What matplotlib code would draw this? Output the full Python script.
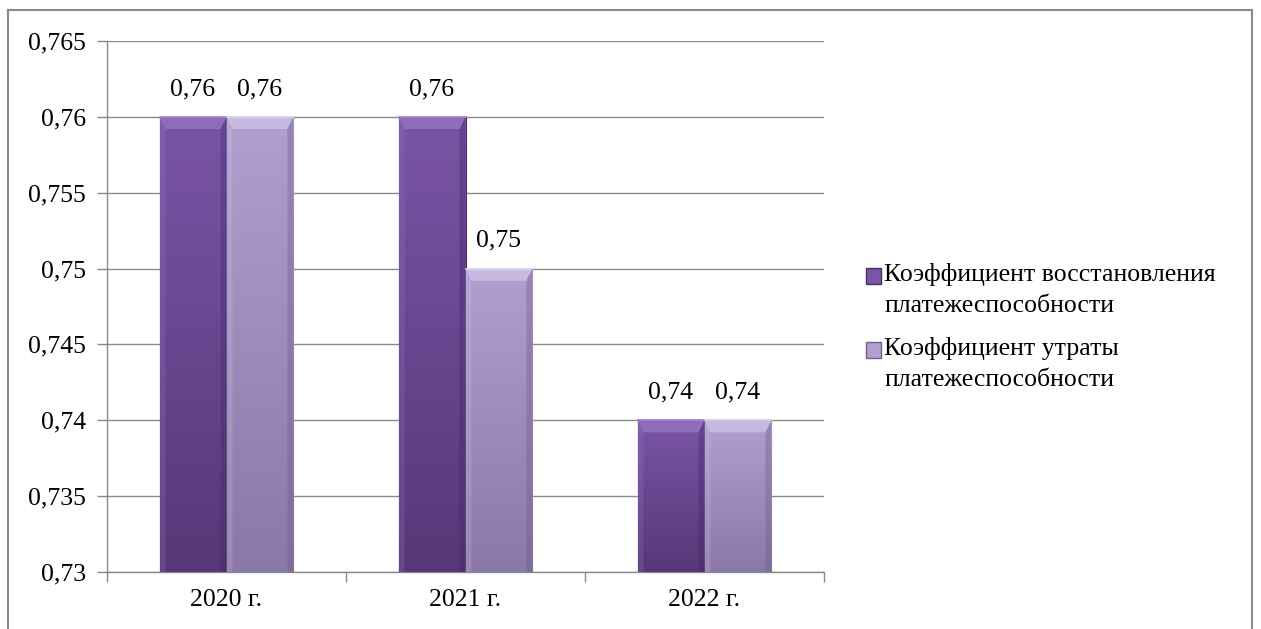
import numpy as np
import matplotlib
matplotlib.use("Agg")
import matplotlib.pyplot as plt
from matplotlib.colors import LinearSegmentedColormap
from matplotlib.lines import Line2D
from matplotlib.patches import Patch, Rectangle
from matplotlib.legend_handler import HandlerPatch

FONT = "Liberation Serif"
plt.rcParams['font.family'] = [FONT, 'DejaVu Serif']

years = ["2020 г.", "2021 г.", "2022 г."]
k_vosst = [0.76, 0.76, 0.74]
k_utr = [0.76, 0.75, 0.74]
lbl_vosst = ["0,76", "0,76", "0,74"]
lbl_utr = ["0,76", "0,75", "0,74"]
series_names = ["Коэффициент восстановления\nплатежеспособности",
                "Коэффициент утраты\nплатежеспособности"]

ymin, ymax = 0.73, 0.765
yticks = np.arange(0.73, 0.7651, 0.005)

dark_top, dark_bot = "#7a55a6", "#563878"
light_top, light_bot = "#b09fcf", "#8a78a8"
fs = 18.5

fig = plt.figure(figsize=(12.61, 6.29), dpi=100)
ax = fig.add_axes([107/1261, 57/629, (824-107)/1261, (572-41)/629])

x = np.arange(len(years))
w = 0.28

b1 = ax.bar(x - w/2, k_vosst, w, bottom=0, color=dark_top, edgecolor="#4a3068", linewidth=0.8, zorder=3)
b2 = ax.bar(x + w/2, k_utr, w, bottom=0, color=light_top, edgecolor="#6f6088", linewidth=0.8, zorder=3)

# gradient fill + bevel highlight on each bar
def shade(bars, ctop, cbot, hi, side):
    cmap = LinearSegmentedColormap.from_list("g", [cbot, ctop])
    grad = np.linspace(0, 1, 256).reshape(-1, 1)
    for b in bars:
        x0, bw, h = b.get_x(), b.get_width(), b.get_height()
        im = ax.imshow(grad, cmap=cmap, aspect="auto", origin="lower",
                       extent=[x0, x0 + bw, ymin, h], zorder=3.5)
        im.set_clip_path(b)
        bev = 0.0008
        dx = 0.025
        ax.fill([x0, x0 + bw, x0 + bw - dx, x0 + dx],
                [h, h, h - bev, h - bev], color=hi, alpha=0.55, lw=0, zorder=3.6)
        ax.fill([x0, x0 + dx, x0 + dx, x0], [h, h - bev, ymin, ymin],
                color=hi, alpha=0.2, lw=0, zorder=3.6)
        ax.fill([x0 + bw, x0 + bw - dx, x0 + bw - dx, x0 + bw], [h, h - bev, ymin, ymin],
                color=side, alpha=0.35, lw=0, zorder=3.6)
        ax.plot([x0, x0 + bw], [h, h], color=hi, lw=1.2, zorder=3.7)

shade(b1, dark_top, dark_bot, "#a184cc", "#3e2660")
shade(b2, light_top, light_bot, "#ddd0ef", "#6a5a85")

for xi, v, t in zip(x - w/2, k_vosst, lbl_vosst):
    ax.text(xi, v + 0.0011, t, ha="center", va="bottom", fontsize=fs, family=FONT)
for xi, v, t in zip(x + w/2, k_utr, lbl_utr):
    ax.text(xi, v + 0.0011, t, ha="center", va="bottom", fontsize=fs, family=FONT)

ax.set_xlim(-0.5, len(years) - 0.5)
ax.set_ylim(ymin, ymax)
ax.set_yticks(yticks)
ax.set_yticklabels([("%g" % round(v, 3)).replace(".", ",") for v in yticks], fontsize=fs, family=FONT)
ax.set_xticks(x)
ax.set_xticklabels(years, fontsize=fs, family=FONT)
ax.tick_params(axis="x", length=0, pad=12)
ax.tick_params(axis="y", length=7, color="#888888", width=1, pad=8)
ax.set_xticks(np.arange(-0.5, len(years)), minor=True)
ax.tick_params(axis="x", which="minor", length=7, color="#888888", width=1)

ax.grid(axis="y", color="#8a8a8a", linewidth=1, zorder=0)
for s in ["top", "right"]:
    ax.spines[s].set_visible(False)
for s in ["left", "bottom"]:
    ax.spines[s].set_color("#8a8a8a")
    ax.spines[s].set_linewidth(1)

# legend square sits on the first text line
def top_square(legend, orig_handle, xdescent, ydescent, width, height, fontsize):
    return Rectangle((-xdescent, -ydescent + 0.52 * fontsize), width, height)

handles = [Patch(facecolor=dark_top, edgecolor="#4a3068"),
           Patch(facecolor=light_top, edgecolor="#6f6088")]
leg = fig.legend(handles, series_names, loc="center left", bbox_to_anchor=(843/1261, 1 - 327/629),
                 frameon=False, prop={"family": FONT, "size": fs}, handlelength=0.58,
                 handleheight=0.58, handletextpad=0.12, labelspacing=0.75,
                 handler_map={Patch: HandlerPatch(patch_func=top_square)})
for t in leg.get_texts():
    t.set_linespacing(1.55)

# outer frame
fig.add_artist(Line2D([8/1261, 8/1261], [0, 1 - 10/629], color="#8a8a8a", lw=1.5))
fig.add_artist(Line2D([8/1261, 1252/1261], [1 - 10/629, 1 - 10/629], color="#8a8a8a", lw=1.5))
fig.add_artist(Line2D([1252/1261, 1252/1261], [0, 1 - 10/629], color="#8a8a8a", lw=1.5))

fig.savefig("out.png", dpi=100)
